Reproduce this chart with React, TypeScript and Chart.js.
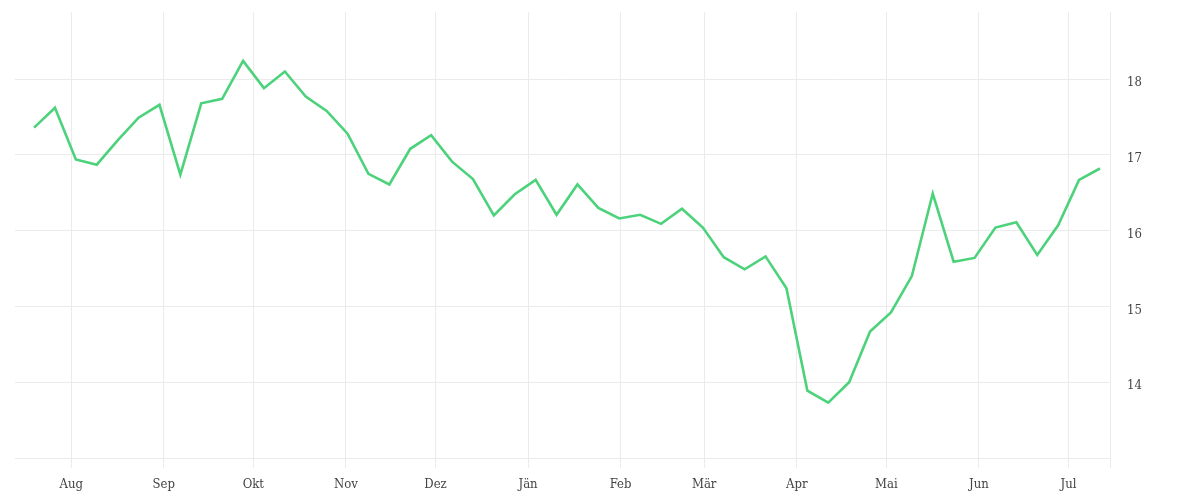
import React, { useEffect, useRef } from "react";
import { Chart, registerables } from "chart.js";

Chart.register(...registerables);

const dates: string[] = [
  "2022-07-20", "2022-07-27", "2022-08-03", "2022-08-10", "2022-08-17", "2022-08-24", "2022-08-31",
  "2022-09-07", "2022-09-14", "2022-09-21", "2022-09-28", "2022-10-05", "2022-10-12", "2022-10-19",
  "2022-10-26", "2022-11-02", "2022-11-09", "2022-11-16", "2022-11-23", "2022-11-30", "2022-12-07",
  "2022-12-14", "2022-12-21", "2022-12-28", "2023-01-04", "2023-01-11", "2023-01-18", "2023-01-25",
  "2023-02-01", "2023-02-08", "2023-02-15", "2023-02-22", "2023-03-01", "2023-03-08", "2023-03-15",
  "2023-03-22", "2023-03-29", "2023-04-05", "2023-04-12", "2023-04-19", "2023-04-26", "2023-05-03",
  "2023-05-10", "2023-05-17", "2023-05-24", "2023-05-31", "2023-06-07", "2023-06-14", "2023-06-21",
  "2023-06-28", "2023-07-05", "2023-07-12",
];

const values: number[] = [
  17.36, 17.62, 16.94, 16.87, 17.19, 17.49, 17.66, 16.74, 17.68, 17.74,
  18.24, 17.88, 18.1, 17.77, 17.58, 17.28, 16.75, 16.61, 17.08, 17.26,
  16.91, 16.68, 16.2, 16.48, 16.67, 16.21, 16.61, 16.3, 16.16, 16.21,
  16.09, 16.29, 16.04, 15.65, 15.49, 15.66, 15.24, 13.89, 13.73, 14.0,
  14.67, 14.92, 15.4, 16.49, 15.59, 15.64, 16.04, 16.11, 15.68, 16.07,
  16.67, 16.82,
];

const monthStarts: string[] = [
  "2022-08-01", "2022-09-01", "2022-10-01", "2022-11-01", "2022-12-01", "2023-01-01",
  "2023-02-01", "2023-03-01", "2023-04-01", "2023-05-01", "2023-06-01", "2023-07-01",
];
const monthLabels: string[] = ["Aug", "Sep", "Okt", "Nov", "Dez", "Jän", "Feb", "Mär", "Apr", "Mai", "Jun", "Jul"];

const yTicks: number[] = [14, 15, 16, 17, 18];

const X_MIN_DATE = "2022-07-13T04:00";
const X_MAX_DATE = "2023-07-14T22:00";
const Y_MIN = 13;
const Y_MAX = 18.885;

const DAY = 86400000;
const ORIGIN = Date.parse("2022-08-01T00:00:00Z");
const toDay = (s: string) => (Date.parse(s.length === 10 ? s + "T00:00:00Z" : s + ":00Z") - ORIGIN) / DAY;

export default function App() {
  const ref = useRef<HTMLCanvasElement | null>(null);

  useEffect(() => {
    if (!ref.current) return;
    const xMin = toDay(X_MIN_DATE);
    const xMax = toDay(X_MAX_DATE);
    const monthDays = monthStarts.map(toDay);
    const family = "'DejaVu Serif Condensed', 'DejaVu Serif', serif";

    const chart = new Chart(ref.current, {
      type: "line",
      data: {
        datasets: [
          {
            data: dates.map((d, i) => ({ x: toDay(d) - 0.45, y: values[i] })),
            borderColor: "#4bd27b",
            borderWidth: 2.6,
            pointRadius: 0,
            tension: 0,
            fill: false,
          },
        ],
      },
      options: {
        animation: false,
        responsive: false,
        maintainAspectRatio: false,
        layout: { padding: { top: 12, left: 15, right: 0, bottom: 0 } },
        plugins: { legend: { display: false }, tooltip: { enabled: false } },
        scales: {
          x: {
            type: "linear",
            min: xMin,
            max: xMax,
            afterBuildTicks: (scale: any) => {
              const t = monthDays.map((v) => ({ value: v }));
              t.push({ value: xMax });
              scale.ticks = t;
            },
            afterFit: (scale: any) => {
              scale.height = 42;
              scale.paddingLeft = 0;
              scale.paddingRight = 0;
              scale.paddingTop = 0;
              scale.paddingBottom = 0;
            },
            ticks: {
              autoSkip: false,
              maxRotation: 0,
              padding: 9,
              color: "#444444",
              font: { family, size: 13 },
              callback: (v: any) => {
                const idx = monthDays.indexOf(Number(v));
                return idx >= 0 ? monthLabels[idx] : "";
              },
            },
            grid: {
              color: "#ebebeb",
              lineWidth: 1,
              drawTicks: true,
              tickLength: 10,
            },
            border: { display: true, color: "#ebebeb", width: 1 },
          },
          y: {
            position: "right",
            min: Y_MIN,
            max: Y_MAX,
            afterBuildTicks: (scale: any) => {
              scale.ticks = yTicks.map((v) => ({ value: v }));
            },
            afterFit: (scale: any) => {
              scale.width = 90;
              scale.paddingLeft = 0;
              scale.paddingRight = 0;
              scale.paddingTop = 0;
              scale.paddingBottom = 0;
            },
            ticks: {
              padding: 17,
              color: "#444444",
              font: { family, size: 13, lineHeight: 0.6 },
              callback: (v: any) => ["", String(v)],
            },
            grid: {
              color: "#ebebeb",
              lineWidth: 1,
              drawTicks: false,
            },
            border: { display: false },
          },
        },
      },
    });
    return () => chart.destroy();
  }, []);

  return (
    <div style={{ position: "absolute", left: 0, top: 0, width: 1200, height: 500, background: "#fff" }}>
      <canvas ref={ref} width={1200} height={500} style={{ width: 1200, height: 500, display: "block" }} />
    </div>
  );
}
